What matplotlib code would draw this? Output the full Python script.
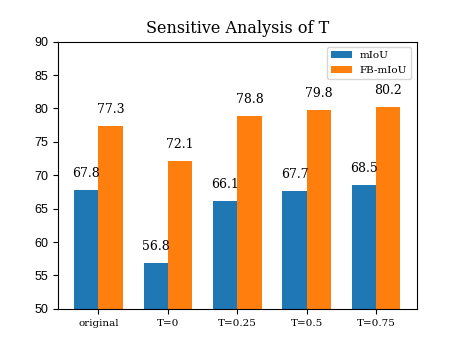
import matplotlib
matplotlib.use("Agg")
import matplotlib.pyplot as plt
import numpy as np

# data
labels = ["original", "T=0", "T=0.25", "T=0.5", "T=0.75"]
miou = [67.8, 56.8, 66.1, 67.7, 68.5]
fb_miou = [77.3, 72.1, 78.8, 79.8, 80.2]

x = np.arange(len(labels))
width = 0.35

fig, ax = plt.subplots(figsize=(4.63, 3.47), dpi=100)
b1 = ax.bar(x - width / 2, miou, width, label="mIoU", color="#1f77b4")
b2 = ax.bar(x + width / 2, fb_miou, width, label="FB-mIoU", color="#ff7f0e")

# value labels above bars
for bars in (b1, b2):
    for r in bars:
        h = r.get_height()
        ax.text(r.get_x() + r.get_width() / 2, h + 1.5, "%.1f" % h,
                ha="center", va="bottom", family="DejaVu Serif", fontsize=9)

ax.set_ylim(50, 90)
ax.set_yticks(np.arange(50, 91, 5))
ax.set_xticks(x)
ax.set_xticklabels(labels, family="DejaVu Serif", fontsize=7.5)
for t in ax.get_yticklabels():
    t.set_family("Liberation Sans")
    t.set_fontsize(9)
ax.set_title("Sensitive Analysis of T", family="DejaVu Serif", fontsize=11.5)
ax.legend(loc="upper right", prop={"family": "DejaVu Serif", "size": 7.5})

fig.savefig("out.png", dpi=100)
